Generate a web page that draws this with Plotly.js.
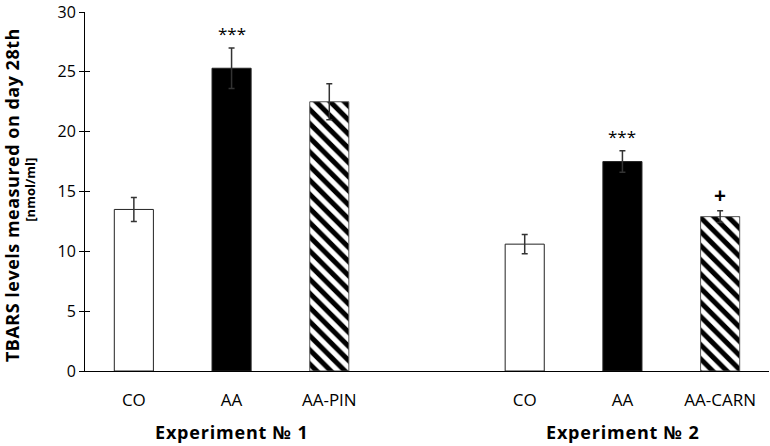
<!DOCTYPE html>
<html>
<head>
<meta charset="utf-8">
<script src="https://cdn.plot.ly/plotly-3.0.1.min.js"></script>
<style>html,body{margin:0;padding:0;background:#fff;}#chart{width:770px;height:446px;}</style>
</head>
<body>
<div id="chart"></div>
<script>
// ---- data ----
const groups = ['Experiment № 1', 'Experiment № 2'];
const categories = ['CO', 'AA', 'AA-PIN', 'CO', 'AA', 'AA-CARN'];
const groupOfBar = [0, 0, 0, 1, 1, 1];
const tbars = [13.5, 25.3, 22.5, 10.6, 17.5, 12.9];
const sem = [1.0, 1.7, 1.5, 0.8, 0.9, 0.5];
const significance = ['', '***', '', '', '***', '+'];
const fills = ['white', 'black', 'hatch', 'white', 'black', 'hatch'];
const yTitle = 'TBARS levels measured on day 28th';
const yUnit = '[nmol/ml]';

// ---- layout helpers ----
const FONT = 'Open Sans, sans-serif';
const groupGap = 1; // empty slots between groups
const xpos = categories.map((c, i) => i + groupOfBar[i] * groupGap);

function barTrace(kind) {
  const idx = fills.map((f, i) => f === kind ? i : -1).filter(i => i >= 0);
  const t = {
    type: 'bar',
    x: idx.map(i => xpos[i]),
    y: idx.map(i => tbars[i]),
    width: 0.4,
    marker: {
      color: kind === 'black' ? 'black' : 'white',
      line: {color: kind === 'hatch' ? '#555' : '#222', width: 1}
    },
    error_y: {type: 'data', array: idx.map(i => sem[i]), visible: true, color: '#333', thickness: 1.5, width: 3},
    hoverinfo: 'none',
    showlegend: false
  };
  if (kind === 'hatch') {
    t.marker.pattern = {shape: '\\', fgcolor: 'black', bgcolor: 'white', fgopacity: 1, size: 10, solidity: 0.5, fillmode: 'replace'};
  }
  return t;
}

const annotations = [];
significance.forEach((s, i) => {
  if (!s) return;
  const plus = s === '+';
  annotations.push({
    x: xpos[i], y: tbars[i] + sem[i], xref: 'x', yref: 'y',
    text: plus ? '<b>+</b>' : s, showarrow: false, yanchor: 'bottom',
    yshift: plus ? 0 : 1,
    font: {family: FONT, size: plus ? 21 : 17, color: 'black'}
  });
});
groups.forEach((g, gi) => {
  const xs = xpos.filter((x, i) => groupOfBar[i] === gi);
  annotations.push({
    x: xs.reduce((a, b) => a + b, 0) / xs.length, xref: 'x',
    y: -0.17, yref: 'paper', yanchor: 'middle',
    text: '<b><span style="letter-spacing:0.8px">' + g + '</span></b>', showarrow: false,
    font: {family: FONT, size: 18, color: 'black'}
  });
});
annotations.push({
  x: 0, xref: 'paper', xanchor: 'center', xshift: -73,
  y: 0.49, yref: 'paper', yanchor: 'middle',
  text: '<b><span style="letter-spacing:0.5px">' + yTitle + '</span></b>', textangle: -90, showarrow: false,
  font: {family: FONT, size: 18, color: 'black'}
});
annotations.push({
  x: 0, xref: 'paper', xanchor: 'center', xshift: -55,
  y: 0.505, yref: 'paper', yanchor: 'middle',
  text: '<b>' + yUnit + '</b>', textangle: -90, showarrow: false,
  font: {family: FONT, size: 13, color: 'black'}
});

const layout = {
  width: 770, height: 446,
  margin: {l: 85, r: 1, t: 12, b: 75},
  paper_bgcolor: 'white', plot_bgcolor: 'white',
  barmode: 'overlay',
  xaxis: {
    range: [-0.5, Math.max(...xpos) + 0.5],
    tickvals: xpos, ticktext: categories,
    showline: true, linecolor: 'black', linewidth: 1,
    ticks: '', showgrid: false, zeroline: false,
    tickfont: {family: FONT, size: 17, color: 'black'},
    ticklabelstandoff: 14
  },
  yaxis: {
    range: [0, 30], tickvals: [0, 5, 10, 15, 20, 25, 30],
    showline: true, linecolor: 'black', linewidth: 1,
    ticks: 'outside', ticklen: 5, tickcolor: 'black', tickwidth: 1,
    showgrid: false, zeroline: false,
    tickfont: {family: FONT, size: 16, color: 'black'},
    ticklabeloverflow: 'allow',
    automargin: false
  },
  yaxis2: {
    overlaying: 'y', side: 'left', range: [0, 30], tickvals: [0, 5, 10, 15, 20, 25, 30],
    ticks: 'inside', ticklen: 5, tickcolor: 'black', tickwidth: 1,
    showticklabels: false, showgrid: false, zeroline: false, showline: false
  },
  annotations: annotations
};

const traces = [barTrace('white'), barTrace('black'), barTrace('hatch'),
  {type: 'scatter', x: [], y: [], yaxis: 'y2', showlegend: false, hoverinfo: 'none'}];
Plotly.newPlot('chart', traces, layout, {staticPlot: true});
</script>
</body>
</html>
